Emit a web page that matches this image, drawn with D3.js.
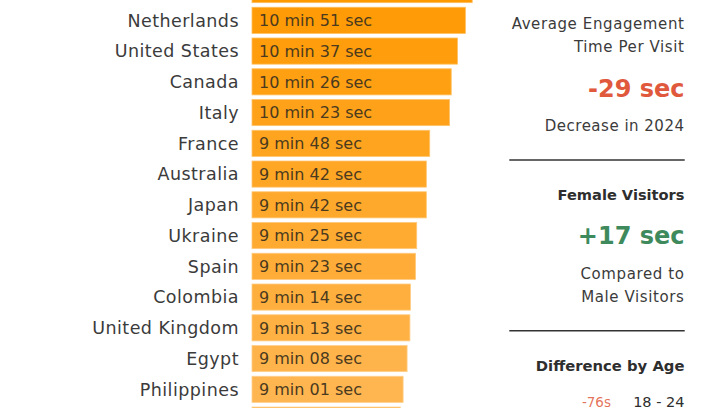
<!DOCTYPE html>
<html>
<head>
<meta charset="utf-8">
<script src="https://cdn.jsdelivr.net/npm/d3@7/dist/d3.min.js"></script>
<style>
  html, body { margin: 0; padding: 0; background: #ffffff; }
  svg { display: block; }
  text { font-family: "DejaVu Sans", "Noto Sans", sans-serif; }
</style>
</head>
<body>
<svg id="chart" width="726" height="408"></svg>
<script>
// ---- data (seconds per visit) ----
const countries = ["Germany", "Netherlands", "United States", "Canada", "Italy", "France",
  "Australia", "Japan", "Ukraine", "Spain", "Colombia", "United Kingdom", "Egypt",
  "Philippines", "India"];
const seconds = [663, 651, 637, 626, 623, 588, 582, 582, 565, 563, 554, 553, 548, 541, 536];

// ---- side panel texts ----
const panelTitle = ["Average Engagement", "Time Per Visit"];
const panelValue1 = "-29 sec";
const panelNote1 = ["Decrease in 2024"];
const panelTitle2 = "Female Visitors";
const panelValue2 = "+17 sec";
const panelNote2 = ["Compared to", "Male Visitors"];
const panelTitle3 = "Difference by Age";
const ageDiff = ["-76s"];
const ageGroups = ["18 - 24"];

const W = 726, H = 408;
const svg = d3.select("#chart");

const x = d3.scaleLinear().domain([274, 700]).range([252, 252 + 0.566 * 426]);
const y = d3.scaleBand().domain(countries).range([-25.8, 435.45])
  .paddingInner(0.15).paddingOuter(0.075);

const colorScale = d3.scaleLinear().domain([0, countries.length - 1])
  .range(["#ff9900", "#ffb857"]).interpolate(d3.interpolateRgb);

const fmt = s => {
  const m = Math.floor(s / 60), r = s % 60;
  return `${m} min ${String(r).padStart(2, "0")} sec`;
};

const rows = svg.append("g").selectAll("g").data(countries).join("g")
  .attr("transform", d => `translate(0,${y(d)})`);

rows.append("rect")
  .attr("x", x(274))
  .attr("width", (d, i) => x(seconds[i]) - x(274))
  .attr("height", y.bandwidth())
  .attr("fill", (d, i) => colorScale(i))
  .attr("stroke", (d, i) => d3.interpolateRgb(colorScale(i), "#ffffff")(0.35))
  .attr("stroke-width", 0.8);

// texts only for rows whose text lies inside the frame (outer rows are cropped in the original)
const visible = d => {
  const c = y(d) + y.bandwidth() / 2;
  return c > 0 && c < H;
};
const labelled = rows.filter(d => visible(d));

labelled.append("text")
  .attr("x", 239)
  .attr("y", y.bandwidth() / 2)
  .attr("dy", "0.36em")
  .attr("text-anchor", "end")
  .attr("font-size", 17.5)
  .attr("letter-spacing", 0.45)
  .attr("fill", "#3b3b3b")
  .text(d => d);

labelled.append("text")
  .attr("x", 259)
  .attr("y", y.bandwidth() / 2)
  .attr("dy", "0.36em")
  .attr("font-size", 16)
  .attr("fill", "#4a3a1e")
  .text(d => fmt(seconds[countries.indexOf(d)]));

// ---- right panel ----
const px = 684.5;
const panel = svg.append("g").attr("text-anchor", "end");

panel.selectAll(".t1").data(panelTitle).join("text")
  .attr("x", px).attr("y", (d, i) => 29.3 + i * 22.4)
  .attr("font-size", 15).attr("letter-spacing", 0.6).attr("fill", "#3b3b3b").text(d => d);

panel.append("text").attr("x", px).attr("y", 97.3)
  .attr("font-size", 24).attr("font-weight", "bold").attr("fill", "#e0593c")
  .text(panelValue1);

panel.selectAll(".n1").data(panelNote1).join("text")
  .attr("x", px).attr("y", 130.7)
  .attr("font-size", 15).attr("letter-spacing", 0.5).attr("fill", "#3b3b3b").text(d => d);

svg.append("line").attr("x1", 509.3).attr("x2", 684.7).attr("y1", 160).attr("y2", 160)
  .attr("stroke", "#333333").attr("stroke-width", 1.6);

panel.append("text").attr("x", px).attr("y", 200)
  .attr("font-size", 14.6).attr("font-weight", "bold").attr("fill", "#2e2e2e")
  .text(panelTitle2);

panel.append("text").attr("x", px).attr("y", 244)
  .attr("font-size", 24).attr("font-weight", "bold").attr("fill", "#3f8a5c")
  .text(panelValue2);

panel.selectAll(".n2").data(panelNote2).join("text")
  .attr("x", px).attr("y", (d, i) => 279.3 + i * 22.6)
  .attr("font-size", 15).attr("letter-spacing", 0.6).attr("fill", "#3b3b3b").text(d => d);

svg.append("line").attr("x1", 509.3).attr("x2", 684.7).attr("y1", 330.7).attr("y2", 330.7)
  .attr("stroke", "#333333").attr("stroke-width", 1.6);

panel.append("text").attr("x", px).attr("y", 370.7)
  .attr("font-size", 14.8).attr("font-weight", "bold").attr("fill", "#2e2e2e")
  .text(panelTitle3);

panel.selectAll(".ad").data(ageDiff).join("text")
  .attr("x", 611).attr("y", 406.5)
  .attr("font-size", 13.5).attr("fill", "#e0593c").attr("fill-opacity", 0.85).text(d => d);

panel.selectAll(".ag").data(ageGroups).join("text")
  .attr("x", px).attr("y", 406.5)
  .attr("font-size", 14.5).attr("fill", "#2e2e2e").text(d => d);
</script>
</body>
</html>
